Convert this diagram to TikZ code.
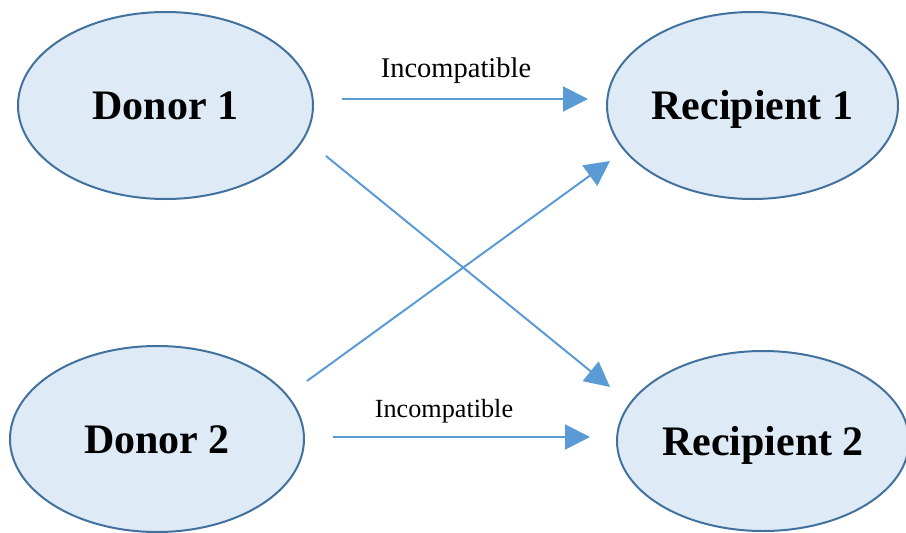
\documentclass[tikz,border=0pt]{standalone}
\usepackage{fontspec}
\setmainfont{Liberation Serif}
\usetikzlibrary{shapes.geometric,arrows.meta}
\definecolor{ellfill}{HTML}{DEEBF7}
\definecolor{elldraw}{HTML}{41719C}
\definecolor{arrblue}{HTML}{5B9BD5}
\begin{document}
\begin{tikzpicture}[x=1pt,y=-1pt,
  party/.style={ellipse,draw=elldraw,fill=ellfill,line width=2pt,inner sep=0pt,
    font=\fontsize{42}{50}\selectfont\bfseries,text height=28pt,text depth=0pt},
  conn/.style={draw=arrblue,line width=2pt,-{Triangle[length=25pt,width=25pt]}},
  lbl/.style={anchor=base,inner sep=0pt}]
\useasboundingbox (0,0) rectangle (906,533);
\node[party,minimum width=295pt,minimum height=187pt] (d1) at (165.5,105.5) {Donor 1};
\node[party,minimum width=291pt,minimum height=187pt] (r1) at (752.5,105.5) {Recipient 1};
\node[party,minimum width=294pt,minimum height=186pt] (d2) at (157,439) {Donor 2};
\node[party,minimum width=292pt,minimum height=180pt] (r2) at (763,441) {Recipient 2};
\coordinate (a1s) at (342,99);
\coordinate (a1e) at (588,99);
\coordinate (a2s) at (326,156);
\coordinate (a2e) at (610,387);
\coordinate (a3s) at (307,381);
\coordinate (a3e) at (610,161);
\coordinate (a4s) at (333,437);
\coordinate (a4e) at (590,437);
\draw[conn] (a1s) -- (a1e);
\draw[conn] (a2s) -- (a2e);
\draw[conn] (a3s) -- (a3e);
\draw[conn] (a4s) -- (a4e);
\node[lbl,font=\fontsize{28.5}{34}\selectfont] (l1) at (456,77) {Incompatible};
\node[lbl,font=\fontsize{26.2}{32}\selectfont] (l2) at (444,417) {Incompatible};
\end{tikzpicture}
\end{document}
